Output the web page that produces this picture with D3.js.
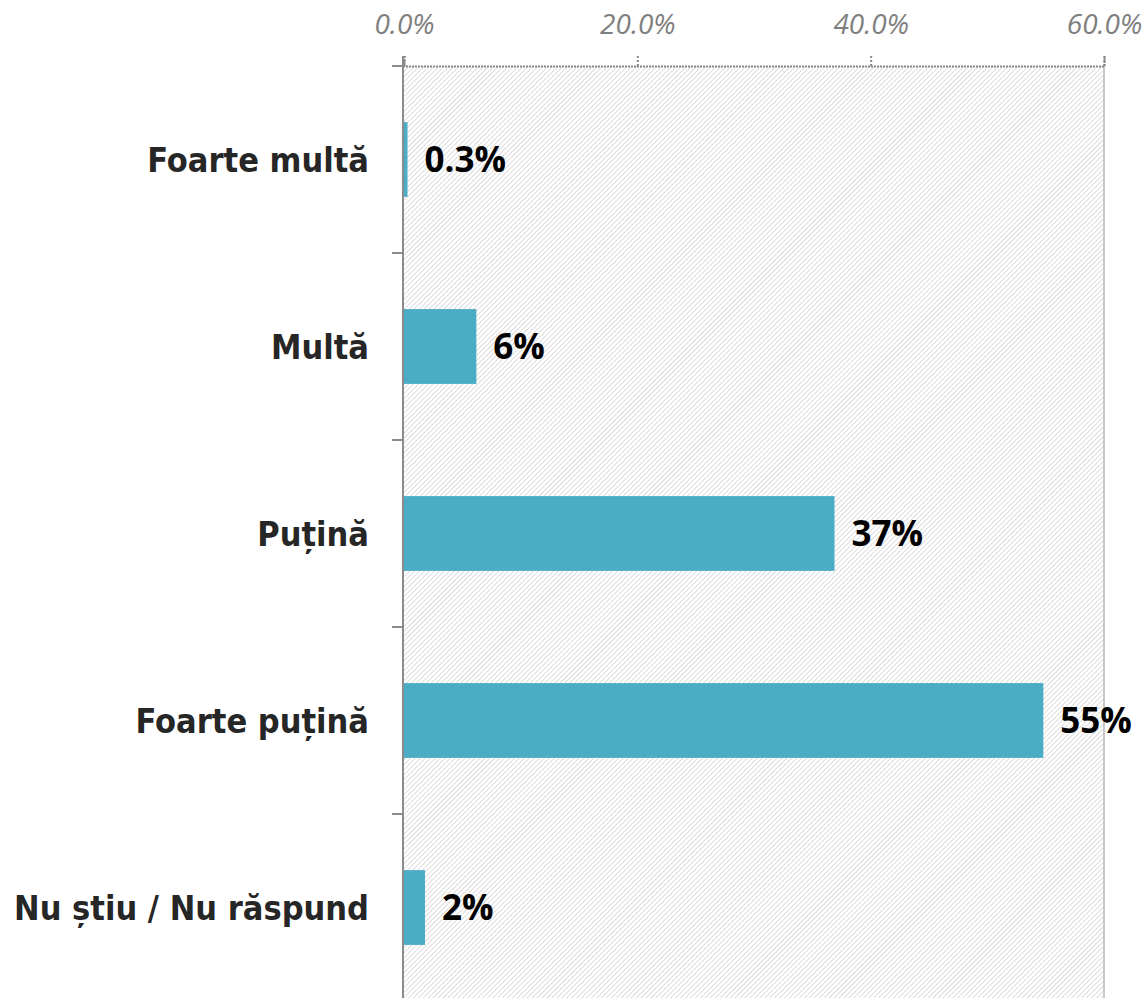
<!DOCTYPE html>
<html>
<head>
<meta charset="utf-8">
<script src="https://cdn.jsdelivr.net/npm/d3@7"></script>
<style>
  body { margin: 0; background: #fff; }
</style>
</head>
<body>
<div id="chart"></div>
<script>
const categories = ["Foarte multă", "Multă", "Puțină", "Foarte puțină", "Nu știu / Nu răspund"];
const values = [0.3, 6.2, 36.9, 54.8, 1.8];
const valueLabels = ["0.3%", "6%", "37%", "55%", "2%"];
const xTicks = [0, 20, 40, 60];

function drawChart() {
    const width = 1147;
    const height = 998;
    const margin = { top: 66, left: 404, right: 43 };
    const plotBottom = margin.top + 5 * 187;

    const svg = d3.select("#chart")
        .append("svg")
        .attr("width", width)
        .attr("height", height);

    // diagonal hatch behind the bars
    const pattern = svg.append("defs").append("pattern")
        .attr("id", "hatch")
        .attr("patternUnits", "userSpaceOnUse")
        .attr("width", 3.5)
        .attr("height", 3.5)
        .attr("patternTransform", "rotate(45)");
    pattern.append("rect").attr("width", 3.5).attr("height", 3.5).attr("fill", "#fff");
    pattern.append("line")
        .attr("x1", 0).attr("y1", 0).attr("x2", 0).attr("y2", 3.5)
        .attr("stroke", "#cfcfcf")
        .attr("stroke-width", 1.4);

    const x = d3.scaleLinear()
        .domain([0, 60])
        .range([margin.left, width - margin.right]);

    const y = d3.scaleBand()
        .domain(categories)
        .range([margin.top, plotBottom])
        .paddingInner(0.6)
        .paddingOuter(0.3);

    svg.append("rect")
        .attr("x", x(0))
        .attr("y", margin.top)
        .attr("width", x(60) - x(0))
        .attr("height", plotBottom - margin.top)
        .attr("fill", "url(#hatch)");

    // right border at 60%
    svg.append("line")
        .attr("x1", x(60)).attr("x2", x(60))
        .attr("y1", margin.top).attr("y2", plotBottom)
        .attr("stroke", "#c8c8c8")
        .attr("stroke-width", 2);

    // top axis, dotted
    const xAxis = svg.append("g")
        .attr("transform", `translate(0,${margin.top})`)
        .call(d3.axisTop(x).tickValues(xTicks).tickSize(10).tickPadding(22)
            .tickFormat(d => d.toFixed(1) + "%"));
    xAxis.select(".domain")
        .attr("stroke", "#888")
        .attr("stroke-width", 2)
        .attr("stroke-dasharray", "2,1");
    xAxis.selectAll(".tick line")
        .attr("stroke", "#888")
        .attr("stroke-width", 2)
        .attr("stroke-dasharray", "2,2");
    xAxis.selectAll(".tick text")
        .attr("fill", "#7f7f7f")
        .style("font-family", "'Open Sans', sans-serif")
        .style("font-style", "italic")
        .style("font-size", "28px");

    // left axis with boundary ticks
    const bounds = d3.range(6).map(i => margin.top + i * 187);
    svg.append("line")
        .attr("x1", x(0) - 1).attr("x2", x(0) - 1)
        .attr("y1", margin.top - 10).attr("y2", plotBottom)
        .attr("stroke", "#8c8c8c")
        .attr("stroke-width", 2);
    svg.append("g")
        .selectAll("line")
        .data(bounds)
        .enter().append("line")
        .attr("x1", x(0) - 12).attr("x2", x(0))
        .attr("y1", d => d).attr("y2", d => d)
        .attr("stroke", "#8c8c8c")
        .attr("stroke-width", 2);

    svg.append("g")
        .selectAll("rect")
        .data(categories)
        .enter().append("rect")
        .attr("x", x(0))
        .attr("y", d => y(d))
        .attr("width", (d, i) => x(values[i]) - x(0))
        .attr("height", y.bandwidth())
        .attr("fill", "#4bacc6");

    svg.append("g")
        .selectAll("text")
        .data(categories)
        .enter().append("text")
        .attr("x", 369)
        .attr("y", d => y(d) + y.bandwidth() / 2)
        .attr("dy", "0.36em")
        .attr("text-anchor", "end")
        .attr("fill", "#262626")
        .style("font-family", "'DejaVu Sans Condensed', 'DejaVu Sans', sans-serif")
        .style("font-weight", "bold")
        .style("font-size", "34px")
        .text(d => d);

    svg.append("g")
        .selectAll("text")
        .data(categories)
        .enter().append("text")
        .attr("x", (d, i) => x(values[i]) + 17)
        .attr("y", d => y(d) + y.bandwidth() / 2)
        .attr("dy", "0.36em")
        .attr("fill", "#000")
        .style("font-family", "'Open Sans', sans-serif")
        .style("font-weight", "bold")
        .style("font-size", "35px")
        .text((d, i) => valueLabels[i]);
}

drawChart();
</script>
</body>
</html>
